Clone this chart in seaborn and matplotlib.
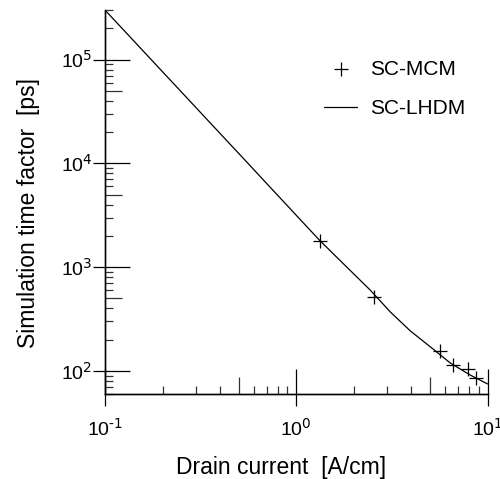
import numpy as np
import pandas as pd
import matplotlib
matplotlib.use("Agg")
import matplotlib.pyplot as plt
import matplotlib.ticker as mticker
import seaborn as sns

# SC-MCM 시뮬레이션 점
mcm_current = [1.33, 2.54, 5.62, 6.57, 7.89, 8.73]
mcm_time = [1800, 515, 156, 113, 105, 86]

# SC-LHDM 곡선
lhdm_current = [0.1, 0.574, 1.05, 1.33, 1.8, 2.44, 3.10, 3.95, 5.04, 6.40, 8.15, 10.0]
lhdm_time = [3.0e5, 9500, 2870, 1800, 1040, 600, 371, 243, 170, 119, 91, 75]

sns.set_style("white")
plt.rcParams['font.family'] = ['Liberation Sans', 'DejaVu Sans']
plt.rcParams['mathtext.default'] = 'regular'
plt.rcParams['axes.unicode_minus'] = False
plt.rcParams['text.color'] = 'black'
plt.rcParams['axes.labelcolor'] = 'black'
plt.rcParams['xtick.color'] = 'black'
plt.rcParams['ytick.color'] = 'black'

fig = plt.figure(figsize=(5, 4.79), dpi=100)
ax = fig.add_axes([0.21, 0.1775, 0.765, 0.8015])

sns.lineplot(x=lhdm_current, y=lhdm_time, color='black', linewidth=0.9, ax=ax, label='SC-LHDM')
sns.scatterplot(x=mcm_current, y=mcm_time, marker='+', s=95, color='black', linewidth=0.9,
                ax=ax, label='SC-MCM', zorder=3)

ax.set_xscale('log')
ax.set_yscale('log')
ax.set_xlim(0.1, 10)
ax.set_ylim(60, 3.0e5)

for s in ['top', 'right']:
    ax.spines[s].set_visible(False)
for s in ['left', 'bottom']:
    ax.spines[s].set_linewidth(1.0)
    ax.spines[s].set_color('black')


def pow10(v, pos):
    # 10^n 라벨 (마이너스는 하이픈으로)
    return r"$10^{\text{%d}}$" % int(round(np.log10(v)))


# 눈금: 주눈금 안쪽 길게, 보조눈금 짧게
ax.xaxis.set_major_locator(mticker.LogLocator(base=10, numticks=10))
ax.yaxis.set_major_locator(mticker.LogLocator(base=10, numticks=10))
ax.xaxis.set_major_formatter(mticker.FuncFormatter(pow10))
ax.yaxis.set_major_formatter(mticker.FuncFormatter(pow10))
ax.xaxis.set_minor_locator(mticker.LogLocator(base=10, subs=[2, 3, 4, 6, 7, 8, 9], numticks=20))
ax.yaxis.set_minor_locator(mticker.LogLocator(base=10, subs=[2, 3, 4, 6, 7, 8, 9], numticks=20))
ax.xaxis.set_minor_formatter(mticker.NullFormatter())
ax.yaxis.set_minor_formatter(mticker.NullFormatter())
ax.tick_params(which='major', direction='in', length=18, width=0.9, color='black',
               labelsize=14, bottom=True, left=True)
ax.tick_params(axis='x', which='major', pad=18)
ax.tick_params(axis='y', which='major', pad=9)
ax.tick_params(which='minor', direction='in', length=6, width=0.9, color='#333333',
               bottom=True, left=True)

# 바깥쪽 주눈금 + 5 위치의 중간 눈금
for sec, axis in [(ax.secondary_xaxis('bottom'), 'x'), (ax.secondary_yaxis('left'), 'y')]:
    a = sec.xaxis if axis == 'x' else sec.yaxis
    a.set_major_locator(mticker.LogLocator(base=10, numticks=10))
    a.set_minor_locator(mticker.LogLocator(base=10, subs=[5], numticks=20))
    sec.tick_params(which='major', direction='out', length=8.6, width=0.9, color='black')
    sec.tick_params(which='minor', direction='in', length=12, width=0.9, color='#333333')
    sec.tick_params(which='both', labelbottom=False, labelleft=False)
    for s in sec.spines.values():
        s.set_linewidth(1.0)

ax.set_xlabel('Drain current  [A/cm]', fontsize=16.5)
ax.set_ylabel('Simulation time factor  [ps]', fontsize=16.5)
ax.xaxis.set_label_coords(0.461, -0.162)
ax.yaxis.set_label_coords(-0.17, 0.471)

handles, labels = ax.get_legend_handles_labels()
order = [labels.index('SC-MCM'), labels.index('SC-LHDM')]
ax.legend([handles[i] for i in order], [labels[i] for i in order], loc='upper right',
          bbox_to_anchor=(0.99, 0.92), frameon=False, fontsize=15, handlelength=1.6,
          handletextpad=0.6, labelspacing=1.0)

fig.savefig('out.png', dpi=100)
